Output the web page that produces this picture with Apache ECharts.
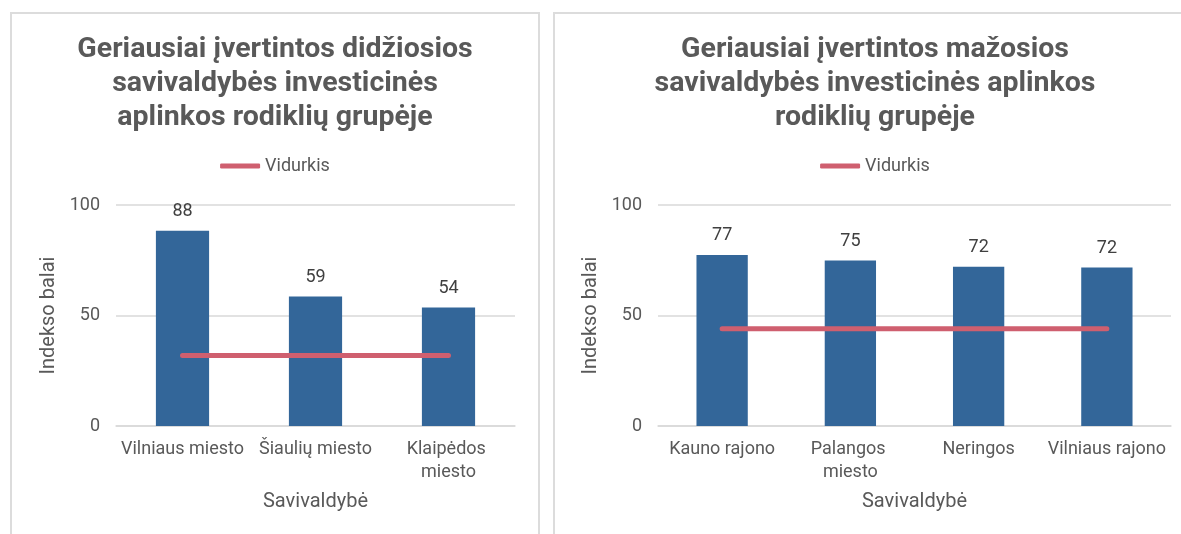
<!DOCTYPE html>
<html>
<head>
<meta charset="utf-8">
<script src="https://cdn.jsdelivr.net/npm/echarts@6/dist/echarts.min.js"></script>
<style>
  body { margin: 0; background: #fff; overflow: hidden; width: 1181px; height: 534px; position: relative; }
  .panel { position: absolute; top: 12px; height: 530px; border: 2px solid #dcdcdc; background: #fff; }
  .chart { width: 100%; height: 100%; }
</style>
</head>
<body>
<div class="panel" style="left: 10px; width: 526px;"><div id="chart1" class="chart"></div></div>
<div class="panel" style="left: 553px; width: 640px;"><div id="chart2" class="chart"></div></div>
<script>
// didžiosios savivaldybės
const bigNames = ['Vilniaus miesto', 'Šiaulių miesto', 'Klaipėdos miesto'];
const bigValues = [88.4, 58.6, 53.6];
const bigAverage = [31.9, 31.9, 31.9];
// mažosios savivaldybės
const smallNames = ['Kauno rajono', 'Palangos miesto', 'Neringos', 'Vilniaus rajono'];
const smallValues = [77.4, 74.9, 72.1, 71.7];
const smallAverage = [44.0, 44.0, 44.0, 44.0];

const yTicks = { min: 0, max: 100, interval: 50 };
const legendName = 'Vidurkis';
const yName = 'Indekso balai';
const xName = 'Savivaldybė';

const FONT = 'Roboto';
const GREY = '#595959';

function makeOption(title, names, values, avg, gridLeft, gridRight, labelWidth, yGap) {
  return {
    animation: false,
    textStyle: { fontFamily: FONT },
    title: {
      text: title,
      left: 'center',
      top: 14,
      textStyle: { fontFamily: FONT, fontSize: 28.5, fontWeight: 'bold', color: GREY, lineHeight: 34 }
    },
    legend: {
      data: [legendName],
      left: 'center',
      top: 138,
      icon: 'roundRect',
      itemWidth: 40,
      itemHeight: 5,
      textStyle: { fontFamily: FONT, fontSize: 18, color: GREY }
    },
    grid: { left: gridLeft, right: gridRight, top: 191, bottom: 118 },
    xAxis: {
      type: 'category',
      data: names,
      name: xName,
      nameLocation: 'middle',
      nameGap: 66,
      nameTextStyle: { fontFamily: FONT, fontSize: 20, color: GREY },
      axisLine: { lineStyle: { color: '#d9d9d9', width: 1.5 } },
      axisTick: { show: false },
      axisLabel: {
        margin: 12,
        fontFamily: FONT,
        fontSize: 18,
        color: GREY,
        lineHeight: 23,
        width: labelWidth,
        overflow: 'break',
        interval: 0
      }
    },
    yAxis: {
      type: 'value',
      min: yTicks.min,
      max: yTicks.max,
      interval: yTicks.interval,
      name: yName,
      nameLocation: 'middle',
      nameGap: yGap,
      nameTextStyle: { fontFamily: FONT, fontSize: 20, color: GREY },
      axisLine: { show: false },
      axisTick: { show: false },
      axisLabel: { margin: 16, fontFamily: FONT, fontSize: 18, color: GREY },
      splitLine: { lineStyle: { color: '#d9d9d9', width: 1.5 } }
    },
    series: [
      {
        name: 'Indekso balai',
        type: 'bar',
        data: values,
        barWidth: '40%',
        itemStyle: { color: '#336699' },
        label: {
          show: true,
          position: 'top',
          distance: 10,
          fontFamily: FONT,
          fontSize: 18,
          color: '#404040',
          formatter: (p) => Math.round(p.value)
        }
      },
      {
        name: legendName,
        type: 'line',
        data: avg,
        symbol: 'none',
        lineStyle: { color: '#cf5f6f', width: 5, cap: 'round' },
        itemStyle: { color: '#cf5f6f' }
      }
    ]
  };
}

const chart1 = echarts.init(document.getElementById('chart1'));
chart1.setOption(makeOption(
  'Geriausiai įvertintos didžiosios\nsavivaldybės investicinės\naplinkos rodiklių grupėje',
  bigNames, bigValues, bigAverage, 104, 23, 130, 55
));

const chart2 = echarts.init(document.getElementById('chart2'));
chart2.setOption(makeOption(
  'Geriausiai įvertintos mažosios\nsavivaldybės investicinės aplinkos\nrodiklių grupėje',
  smallNames, smallValues, smallAverage, 103, 24, 126, 52
));
</script>
</body>
</html>
